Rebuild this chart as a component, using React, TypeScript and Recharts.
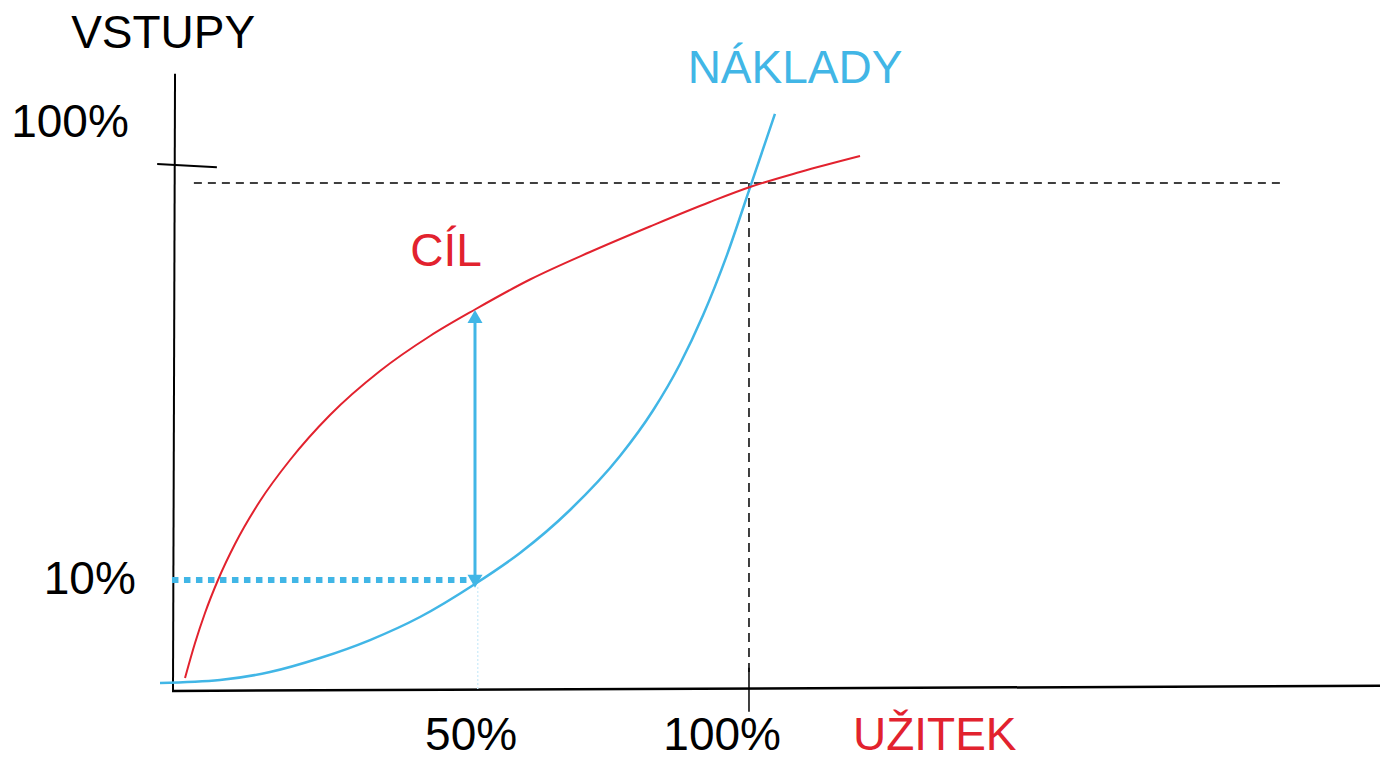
import { ComposedChart, Line, XAxis, YAxis, ReferenceLine, ReferenceDot, Scatter } from "recharts";

// x: share of benefit (UŽITEK) in %, y: inputs (VSTUPY) in %
const goalCurve = [
  { x: -2.92, y: -11.21 },
  { x: -1.09, y: -3.63 },
  { x: 0.73, y: 2.86 },
  { x: 3.1, y: 10.0 },
  { x: 6.2, y: 17.78 },
  { x: 10.77, y: 27.09 },
  { x: 16.24, y: 35.96 },
  { x: 23.54, y: 45.7 },
  { x: 32.66, y: 55.22 },
  { x: 41.79, y: 62.79 },
  { x: 50, y: 68.52 },
  { x: 60.04, y: 75.01 },
  { x: 70.99, y: 80.96 },
  { x: 81.93, y: 86.48 },
  { x: 92.88, y: 91.78 },
  { x: 100.18, y: 95.02 },
  { x: 109.31, y: 98.27 },
  { x: 120.26, y: 101.73 },
];

const costCurve = [
  { x: -7.48, y: -12.29 },
  { x: 3.47, y: -11.64 },
  { x: 12.59, y: -9.91 },
  { x: 21.72, y: -6.88 },
  { x: 30.84, y: -2.99 },
  { x: 39.96, y: 1.99 },
  { x: 50, y: 9.13 },
  { x: 58.21, y: 15.84 },
  { x: 67.34, y: 25.14 },
  { x: 76.46, y: 36.82 },
  { x: 82.48, y: 46.67 },
  { x: 87.41, y: 56.73 },
  { x: 91.61, y: 67.27 },
  { x: 95.99, y: 80.35 },
  { x: 100.18, y: 94.89 },
  { x: 104.74, y: 110.84 },
];

const arrowTips = [
  { x: 50, y: 68.4, dir: "up" },
  { x: 50, y: 8.3, dir: "down" },
];

const labels = [
  { text: "VSTUPY", x: -6.9, y: 128.7, color: "#000" },
  { text: "100%", x: -23.9, y: 109.3, color: "#000" },
  { text: "10%", x: -20.3, y: 10.4, color: "#000" },
  { text: "50%", x: 49.3, y: -23.3, color: "#000" },
  { text: "100%", x: 95.1, y: -23.3, color: "#000" },
  { text: "UŽITEK", x: 133.9, y: -23.3, color: "#e2222e" },
  { text: "NÁKLADY", x: 108.4, y: 121.0, color: "#41b6e6" },
  { text: "CÍL", x: 44.7, y: 81.4, color: "#e2222e" },
];

const RED = "#e2222e";
const BLUE = "#41b6e6";
const FONT = "'Liberation Sans', Arial, sans-serif";

function ArrowHead(props: any) {
  const { cx, cy, payload } = props;
  const s = payload.dir === "up" ? 13 : -13;
  return <polygon points={`${cx},${cy} ${cx - 7.5},${cy + s} ${cx + 7.5},${cy + s}`} fill={BLUE} />;
}

export default function App() {
  return (
    <div style={{ position: "absolute", left: 0, top: 0, width: 1380, height: 761, background: "#fff" }}>
      <ComposedChart width={1380} height={761} margin={{ top: 0, right: 0, bottom: 0, left: 0 }}>
        <XAxis dataKey="x" type="number" domain={[-36.68, 215.15]} allowDataOverflow hide />
        <YAxis dataKey="y" type="number" domain={[-29.16, 135.48]} allowDataOverflow hide />

        {/* hand-drawn axes */}
        <ReferenceLine segment={[{ x: -4.74, y: 119.5 }, { x: -5.11, y: -13.8 }]} stroke="#000" strokeWidth={2} />
        <ReferenceLine segment={[{ x: -5.29, y: -14.0 }, { x: 215.15, y: -12.9 }]} stroke="#000" strokeWidth={2.5} />
        <ReferenceLine segment={[{ x: -8.0, y: 100.0 }, { x: 2.9, y: 99.3 }]} stroke="#000" strokeWidth={2} />
        <ReferenceLine segment={[{ x: 100, y: -9.0 }, { x: 100, y: -18.5 }]} stroke="#000" strokeWidth={1.5} />

        {/* guides */}
        <ReferenceLine segment={[{ x: -1.3, y: 95.9 }, { x: 196.9, y: 95.9 }]} stroke="#000" strokeWidth={1.5} strokeDasharray="8 6" />
        <ReferenceLine segment={[{ x: 100, y: 95.9 }, { x: 100, y: -9.9 }]} stroke="#000" strokeWidth={1.5} strokeDasharray="9 6" />
        <ReferenceLine segment={[{ x: 50.5, y: 8.5 }, { x: 50.5, y: -13.8 }]} stroke="#d3eefa" strokeWidth={1.5} strokeDasharray="2 2" />
        <ReferenceLine segment={[{ x: -5.3, y: 10 }, { x: 49, y: 10 }]} stroke={BLUE} strokeWidth={6} strokeDasharray="6.5 5.5" />
        <ReferenceLine segment={[{ x: 50, y: 65.6 }, { x: 50, y: 11.0 }]} stroke={BLUE} strokeWidth={3} />

        <Line data={costCurve} dataKey="y" type="monotone" stroke={BLUE} strokeWidth={2.5} dot={false} activeDot={false} isAnimationActive={false} />
        <Line data={goalCurve} dataKey="y" type="monotone" stroke={RED} strokeWidth={2} dot={false} activeDot={false} isAnimationActive={false} />
        <Scatter data={arrowTips} dataKey="y" shape={ArrowHead} isAnimationActive={false} />

        {labels.map((l, i) => (
          <ReferenceDot
            key={i}
            x={l.x}
            y={l.y}
            r={0}
            fill="none"
            stroke="none"
            label={{ value: l.text, position: "center", fill: l.color, fontSize: 46, fontFamily: FONT }}
          />
        ))}
      </ComposedChart>
    </div>
  );
}
